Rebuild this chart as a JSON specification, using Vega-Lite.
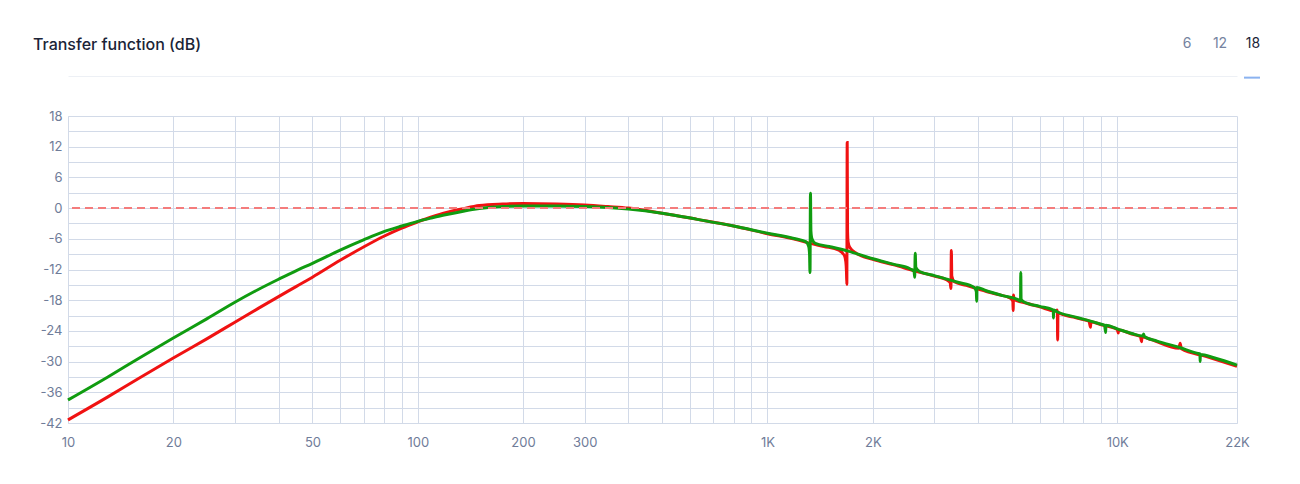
{
  "$schema": "https://vega.github.io/schema/vega-lite/v6.json",
  "autosize": {"type": "none"},
  "width": 1169,
  "height": 307,
  "padding": {"left": 68, "top": 116, "right": 63, "bottom": 61},
  "background": "#ffffff",
  "title": {
    "text": "Transfer function (dB)",
    "anchor": "start",
    "frame": "group",
    "dx": -35,
    "dy": 43,
    "offset": 25,
    "font": "Inter",
    "fontSize": 16,
    "fontWeight": 500,
    "color": "#1b2437"
  },
  "config": {"view": {"stroke": null}, "font": "Inter"},
  "datasets": {
    "curves": [
      {"series": "red", "f": 10, "db": -41.4},
      {"series": "red", "f": 13, "db": -36.9},
      {"series": "red", "f": 16, "db": -33.2},
      {"series": "red", "f": 20, "db": -29.3},
      {"series": "red", "f": 25, "db": -25.5},
      {"series": "red", "f": 30, "db": -22.3},
      {"series": "red", "f": 35, "db": -19.6},
      {"series": "red", "f": 40, "db": -17.3},
      {"series": "red", "f": 45, "db": -15.3},
      {"series": "red", "f": 50, "db": -13.5},
      {"series": "red", "f": 60, "db": -10.2},
      {"series": "red", "f": 70, "db": -7.6},
      {"series": "red", "f": 80, "db": -5.5},
      {"series": "red", "f": 90, "db": -3.9},
      {"series": "red", "f": 100, "db": -2.7},
      {"series": "red", "f": 110, "db": -1.7},
      {"series": "red", "f": 120, "db": -0.9},
      {"series": "red", "f": 135, "db": -0.1},
      {"series": "red", "f": 150, "db": 0.5},
      {"series": "red", "f": 175, "db": 0.8},
      {"series": "red", "f": 200, "db": 0.9},
      {"series": "red", "f": 250, "db": 0.8},
      {"series": "red", "f": 300, "db": 0.6},
      {"series": "red", "f": 350, "db": 0.3},
      {"series": "red", "f": 400, "db": 0.0},
      {"series": "red", "f": 500, "db": -1.0},
      {"series": "red", "f": 630, "db": -2.2},
      {"series": "red", "f": 800, "db": -3.5},
      {"series": "red", "f": 1000, "db": -5.0},
      {"series": "red", "f": 1200, "db": -6.1},
      {"series": "red", "f": 1325, "db": -6.9},
      {"series": "red", "f": 1450, "db": -7.5},
      {"series": "red", "f": 1600, "db": -8.2},
      {"series": "red", "f": 1660, "db": -9.3},
      {"series": "red", "f": 1675, "db": -10.5},
      {"series": "red", "f": 1682, "db": -12.5},
      {"series": "red", "f": 1686, "db": -14.9},
      {"series": "red", "f": 1690, "db": 12.8},
      {"series": "red", "f": 1694, "db": -4.5},
      {"series": "red", "f": 1700, "db": -6.6},
      {"series": "red", "f": 1720, "db": -7.7},
      {"series": "red", "f": 1800, "db": -8.9},
      {"series": "red", "f": 2000, "db": -10.0},
      {"series": "red", "f": 2300, "db": -11.1},
      {"series": "red", "f": 2643, "db": -12.3},
      {"series": "red", "f": 3000, "db": -13.3},
      {"series": "red", "f": 3250, "db": -14.0},
      {"series": "red", "f": 3330, "db": -14.6},
      {"series": "red", "f": 3345, "db": -15.7},
      {"series": "red", "f": 3355, "db": -8.3},
      {"series": "red", "f": 3365, "db": -13.3},
      {"series": "red", "f": 3420, "db": -14.4},
      {"series": "red", "f": 3700, "db": -15.1},
      {"series": "red", "f": 4000, "db": -15.8},
      {"series": "red", "f": 4500, "db": -16.8},
      {"series": "red", "f": 4950, "db": -17.6},
      {"series": "red", "f": 5030, "db": -18.2},
      {"series": "red", "f": 5040, "db": -20.0},
      {"series": "red", "f": 5050, "db": -17.0},
      {"series": "red", "f": 5070, "db": -17.8},
      {"series": "red", "f": 5500, "db": -18.6},
      {"series": "red", "f": 6000, "db": -19.3},
      {"series": "red", "f": 6650, "db": -20.1},
      {"series": "red", "f": 6740, "db": -19.9},
      {"series": "red", "f": 6755, "db": -25.8},
      {"series": "red", "f": 6770, "db": -20.4},
      {"series": "red", "f": 6850, "db": -20.6},
      {"series": "red", "f": 7500, "db": -21.3},
      {"series": "red", "f": 8000, "db": -21.8},
      {"series": "red", "f": 8300, "db": -22.1},
      {"series": "red", "f": 8390, "db": -23.3},
      {"series": "red", "f": 8400, "db": -22.2},
      {"series": "red", "f": 9000, "db": -22.8},
      {"series": "red", "f": 10000, "db": -23.7},
      {"series": "red", "f": 10070, "db": -24.4},
      {"series": "red", "f": 10100, "db": -23.8},
      {"series": "red", "f": 11000, "db": -24.6},
      {"series": "red", "f": 11650, "db": -25.1},
      {"series": "red", "f": 11740, "db": -26.1},
      {"series": "red", "f": 11760, "db": -25.2},
      {"series": "red", "f": 12500, "db": -25.7},
      {"series": "red", "f": 15000, "db": -27.4},
      {"series": "red", "f": 15130, "db": -26.4},
      {"series": "red", "f": 15250, "db": -27.5},
      {"series": "red", "f": 18000, "db": -29.0},
      {"series": "red", "f": 22000, "db": -30.9},
      {"series": "green", "f": 10, "db": -37.5},
      {"series": "green", "f": 13, "db": -33.0},
      {"series": "green", "f": 16, "db": -29.3},
      {"series": "green", "f": 20, "db": -25.4},
      {"series": "green", "f": 25, "db": -21.6},
      {"series": "green", "f": 30, "db": -18.4},
      {"series": "green", "f": 35, "db": -15.9},
      {"series": "green", "f": 40, "db": -13.9},
      {"series": "green", "f": 45, "db": -12.2},
      {"series": "green", "f": 50, "db": -10.8},
      {"series": "green", "f": 60, "db": -8.2},
      {"series": "green", "f": 70, "db": -6.2},
      {"series": "green", "f": 80, "db": -4.6},
      {"series": "green", "f": 90, "db": -3.5},
      {"series": "green", "f": 100, "db": -2.6},
      {"series": "green", "f": 110, "db": -1.9},
      {"series": "green", "f": 120, "db": -1.3},
      {"series": "green", "f": 135, "db": -0.6},
      {"series": "green", "f": 150, "db": -0.1},
      {"series": "green", "f": 175, "db": 0.3},
      {"series": "green", "f": 200, "db": 0.4},
      {"series": "green", "f": 250, "db": 0.4},
      {"series": "green", "f": 300, "db": 0.3},
      {"series": "green", "f": 350, "db": 0.1},
      {"series": "green", "f": 400, "db": -0.2},
      {"series": "green", "f": 500, "db": -1.0},
      {"series": "green", "f": 630, "db": -2.2},
      {"series": "green", "f": 800, "db": -3.5},
      {"series": "green", "f": 1000, "db": -4.9},
      {"series": "green", "f": 1200, "db": -6.0},
      {"series": "green", "f": 1290, "db": -6.6},
      {"series": "green", "f": 1312, "db": -7.5},
      {"series": "green", "f": 1319, "db": -9.0},
      {"series": "green", "f": 1323, "db": -12.6},
      {"series": "green", "f": 1327, "db": 2.9},
      {"series": "green", "f": 1331, "db": -4.5},
      {"series": "green", "f": 1340, "db": -6.0},
      {"series": "green", "f": 1370, "db": -6.9},
      {"series": "green", "f": 1500, "db": -7.5},
      {"series": "green", "f": 1700, "db": -8.4},
      {"series": "green", "f": 2000, "db": -9.9},
      {"series": "green", "f": 2300, "db": -11.0},
      {"series": "green", "f": 2560, "db": -11.9},
      {"series": "green", "f": 2625, "db": -12.4},
      {"series": "green", "f": 2636, "db": -13.5},
      {"series": "green", "f": 2645, "db": -8.8},
      {"series": "green", "f": 2655, "db": -11.6},
      {"series": "green", "f": 2720, "db": -12.4},
      {"series": "green", "f": 3000, "db": -13.2},
      {"series": "green", "f": 3500, "db": -14.5},
      {"series": "green", "f": 3900, "db": -15.5},
      {"series": "green", "f": 3955, "db": -16.3},
      {"series": "green", "f": 3963, "db": -18.2},
      {"series": "green", "f": 3970, "db": -15.5},
      {"series": "green", "f": 4200, "db": -16.1},
      {"series": "green", "f": 4700, "db": -17.1},
      {"series": "green", "f": 5200, "db": -17.9},
      {"series": "green", "f": 5290, "db": -18.2},
      {"series": "green", "f": 5299, "db": -12.6},
      {"series": "green", "f": 5310, "db": -17.8},
      {"series": "green", "f": 5400, "db": -18.3},
      {"series": "green", "f": 6000, "db": -19.2},
      {"series": "green", "f": 6500, "db": -19.8},
      {"series": "green", "f": 6565, "db": -20.1},
      {"series": "green", "f": 6572, "db": -21.5},
      {"series": "green", "f": 6580, "db": -19.9},
      {"series": "green", "f": 6700, "db": -20.2},
      {"series": "green", "f": 7500, "db": -21.2},
      {"series": "green", "f": 8000, "db": -21.7},
      {"series": "green", "f": 9000, "db": -22.7},
      {"series": "green", "f": 9200, "db": -22.9},
      {"series": "green", "f": 9265, "db": -24.3},
      {"series": "green", "f": 9280, "db": -22.9},
      {"series": "green", "f": 10000, "db": -23.6},
      {"series": "green", "f": 11000, "db": -24.5},
      {"series": "green", "f": 11850, "db": -25.0},
      {"series": "green", "f": 11900, "db": -24.6},
      {"series": "green", "f": 11950, "db": -25.1},
      {"series": "green", "f": 13000, "db": -26.0},
      {"series": "green", "f": 15000, "db": -27.2},
      {"series": "green", "f": 17000, "db": -28.4},
      {"series": "green", "f": 17240, "db": -28.5},
      {"series": "green", "f": 17260, "db": -30.0},
      {"series": "green", "f": 17280, "db": -28.6},
      {"series": "green", "f": 19000, "db": -29.3},
      {"series": "green", "f": 22000, "db": -30.7}
    ],
    "tabs": [
      {"tab": "6"},
      {"tab": "12"},
      {"tab": "18"}
    ],
    "zero": [
      {"level": 0}
    ]
  },
  "resolve": {"axis": {"x": "independent"}},
  "layer": [
    {
      "data": {"name": "curves"},
      "mark": {"type": "line", "strokeWidth": 3, "interpolate": "monotone"},
      "encoding": {
        "x": {
          "field": "f",
          "type": "quantitative",
          "scale": {"type": "log", "domain": [10, 22000], "nice": false},
          "axis": {
            "orient": "bottom",
            "title": null,
            "values": [10, 20, 30, 40, 50, 60, 70, 80, 90, 100, 200, 300, 400, 500, 600, 700, 800, 900, 1000, 2000, 3000, 4000, 5000, 6000, 7000, 8000, 9000, 10000, 22000],
            "tickCount": 200,
            "labelExpr": "indexof([10,20,50,100,200,300,1000,2000,10000,22000], datum.value) >= 0 ? (datum.value >= 1000 ? (datum.value / 1000) + 'K' : '' + datum.value) : ''",
            "grid": true,
            "gridColor": "#d2dae8",
            "gridWidth": 1,
            "ticks": false,
            "domain": true,
            "domainColor": "#d2dae8",
            "labelFlush": false,
            "labelOverlap": false,
            "labelFont": "Inter",
            "labelFontSize": 13,
            "labelColor": "#6f7c99",
            "labelPadding": 13
          }
        },
        "y": {
          "field": "db",
          "type": "quantitative",
          "scale": {"domain": [-42, 18], "nice": false, "zero": false},
          "axis": {
            "title": null,
            "values": [-42, -39, -36, -33, -30, -27, -24, -21, -18, -15, -12, -9, -6, -3, 0, 3, 6, 9, 12, 15, 18],
            "tickCount": 200,
            "labelExpr": "datum.value % 6 == 0 ? '' + datum.value : ''",
            "grid": true,
            "gridColor": "#d2dae8",
            "gridWidth": 1,
            "ticks": false,
            "domain": true,
            "domainColor": "#d2dae8",
            "labelFlush": false,
            "labelOverlap": false,
            "labelFont": "Inter",
            "labelFontSize": 13,
            "labelColor": "#6f7c99",
            "labelPadding": 6
          }
        },
        "color": {
          "field": "series",
          "type": "nominal",
          "scale": {"domain": ["red", "green"], "range": ["#f01212", "#109c10"]},
          "legend": null
        }
      }
    },
    {
      "data": {"name": "zero"},
      "mark": {"type": "rule", "color": "#f47c7c", "strokeWidth": 2, "strokeDash": [8, 5]},
      "encoding": {
        "y": {"field": "level", "type": "quantitative"}
      }
    },
    {
      "data": {"name": "tabs"},
      "mark": {"type": "point", "filled": false, "clip": true},
      "encoding": {
        "x": {
          "datum": 1000,
          "type": "quantitative",
          "axis": {
            "orient": "top",
            "offset": 40,
            "title": null,
            "labels": false,
            "ticks": false,
            "grid": false,
            "domain": true,
            "domainColor": "#edf0f5",
            "domainWidth": 1
          }
        },
        "y": {"datum": 100, "type": "quantitative"},
        "stroke": {
          "field": "tab",
          "type": "nominal",
          "scale": {"domain": ["6", "12", "18"], "range": ["rgba(0,0,0,0)", "rgba(0,0,0,0)", "#5b93ea"]},
          "legend": {
            "orient": "none",
            "legendX": 1109,
            "legendY": -81,
            "direction": "horizontal",
            "title": null,
            "symbolType": "M-1,4.16L1,4.16",
            "symbolSize": 256,
            "symbolStrokeWidth": 2,
            "symbolFillColor": "rgba(0,0,0,0)",
            "labelAlign": "center",
            "labelBaseline": "middle",
            "labelOffset": -8,
            "columnPadding": 9,
            "labelFont": "Inter",
            "labelFontSize": 14,
            "labelColor": {"expr": "datum.label == '18' ? '#1b2437' : '#7583a0'"}
          }
        }
      }
    }
  ]
}
